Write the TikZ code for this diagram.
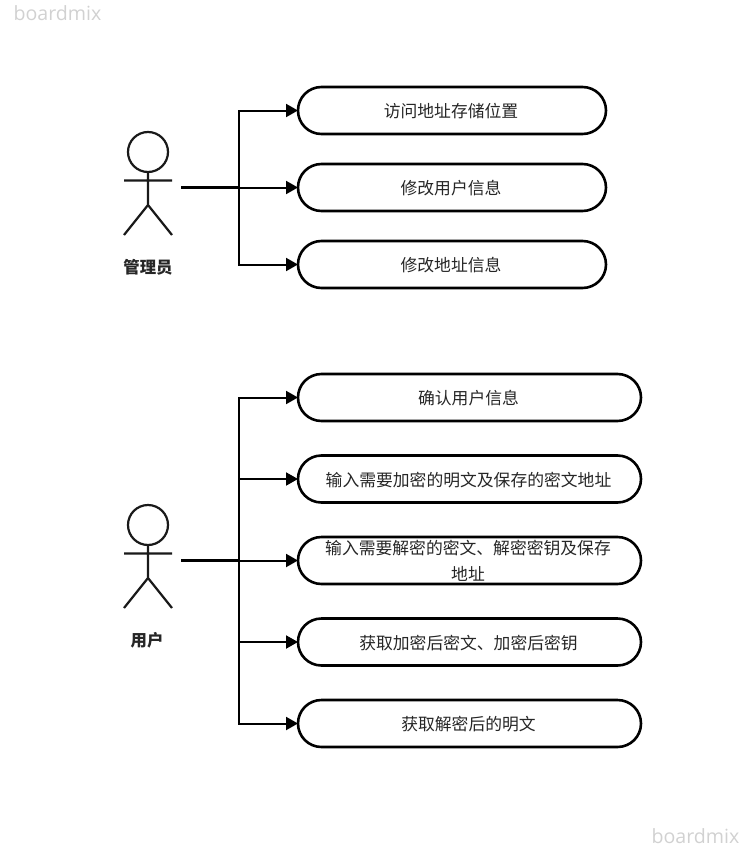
\documentclass[tikz,border=0pt]{standalone}
\usepackage{fontspec}
\setmainfont{Noto Sans CJK SC}
\newfontfamily\wmfont{Open Sans}
\usetikzlibrary{arrows.meta,shapes.misc}
\tikzset{
  usecase/.style={draw=black,line width=2.6pt,fill=white,rounded rectangle,rounded rectangle arc length=180,minimum height=#1,inner sep=0pt,outer sep=0pt,text=black!85,font=\fontsize{16.8}{26}\selectfont,align=center,anchor=west,execute at begin node=\rule{0pt}{15.5pt}\hspace*{-2pt}},
  usecase/.default=47pt,
  link/.style={draw=black,line width=2pt,-{Triangle[length=12pt,width=13pt]}},
  stem/.style={draw=black,line width=3pt},
  figure/.style={draw=black!90,line width=2.2pt},
  actorname/.style={font=\fontsize{16.4}{20}\selectfont\bfseries,text=black!85},
  wm/.style={font=\wmfont\fontsize{19.6}{24}\selectfont,text=black!18}
}
\begin{document}
\begin{tikzpicture}[x=1pt,y=-1pt]
\useasboundingbox (0,0) rectangle (752,851);
\node[wm] (w1) at (57.5,13) {boardmix};
\node[wm] (w2) at (695.5,836) {boardmix};
% upper actor
\draw[figure] (148,152) circle (20);
\draw[figure] (148,172) -- (148,205) (124,180.5) -- (172,180.5) (124,235) -- (148,205) -- (172,235);
\node[actorname] (admin) at (148,267.5) {管理员};
\coordinate (a) at (181,187);
\coordinate (at) at (239,187);
% lower actor
\draw[figure] (148,525) circle (20);
\draw[figure] (148,545) -- (148,578) (124,553.5) -- (172,553.5) (124,608) -- (148,578) -- (172,608);
\node[actorname] (user) at (147,640.5) {用户};
\coordinate (b) at (181,560.5);
\coordinate (bt) at (239,560.5);
% upper use cases
\node[usecase,minimum width=308pt] (u1) at (298,110.5) {访问地址存储位置};
\node[usecase,minimum width=308pt] (u2) at (298,187.5) {修改用户信息};
\node[usecase,minimum width=308pt] (u3) at (298,264.5) {修改地址信息};
% lower use cases
\node[usecase,minimum width=343pt] (v1) at (298,397.5) {确认用户信息};
\node[usecase,minimum width=343pt] (v2) at (298,479) {输入需要加密的明文及保存的密文地址};
\node[usecase,minimum width=343pt,execute at begin node=\rule{0pt}{20pt}\hspace*{-1pt}] (v3) at (298,560.5) {输入需要解密的密文、解密密钥及保存\\地址};
\node[usecase,minimum width=343pt] (v4) at (298,642) {获取加密后密文、加密后密钥};
\node[usecase,minimum width=343pt] (v5) at (298,723.5) {获取解密后的明文};
% connectors
\draw[stem] (a) -- (at);
\draw[stem] (b) -- (bt);
\foreach \t in {u1,u2,u3} \draw[link] (at) |- (\t.west);
\foreach \t in {v1,v2,v3,v4,v5} \draw[link] (bt) |- (\t.west);
\end{tikzpicture}
\end{document}
